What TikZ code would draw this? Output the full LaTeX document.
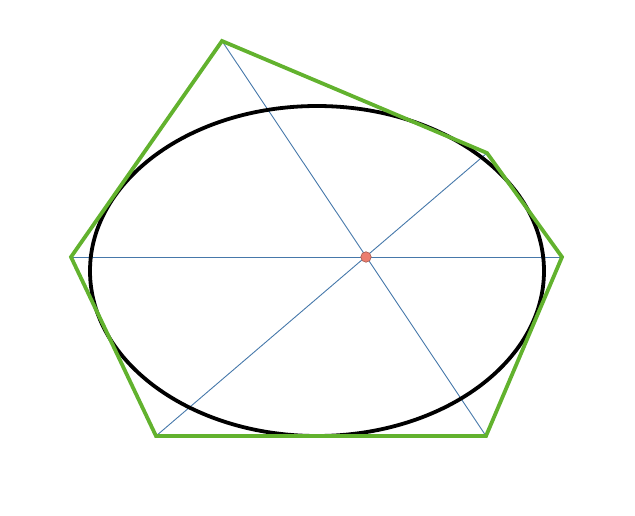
\documentclass[tikz,border=0pt]{standalone}
\definecolor{hexgreen}{RGB}{98,178,46}
\definecolor{diagblue}{RGB}{70,120,170}
\definecolor{dotred}{RGB}{235,125,110}
\begin{document}
\begin{tikzpicture}[x=1pt,y=-1pt,
  hexline/.style={draw=hexgreen, line width=3.8pt, line join=miter},
  diag/.style={draw=diagblue, line width=0.9pt},
  conic/.style={draw=black, line width=3.8pt},
  brpoint/.style={circle, fill=dotred, draw=dotred!70!black, line width=0.6pt, inner sep=0pt, minimum size=10.5pt}]
\useasboundingbox (0,0) rectangle (635,516);
\coordinate (A) at (222,41);
\coordinate (B) at (487,153);
\coordinate (C) at (562,257);
\coordinate (D) at (486,436);
\coordinate (E) at (156,436);
\coordinate (F) at (71,257);
\coordinate (O) at (317,271);
\draw[diag] (A) -- (D);
\draw[diag] (B) -- (E);
\draw[diag] (F) -- (C);
\draw[conic] (O) ellipse [x radius=227, y radius=165];
\draw[hexline] (A) -- (B) -- (C) -- (D) -- (E) -- (F) -- cycle;
\node[brpoint] (P) at (366,257) {};
\end{tikzpicture}
\end{document}
